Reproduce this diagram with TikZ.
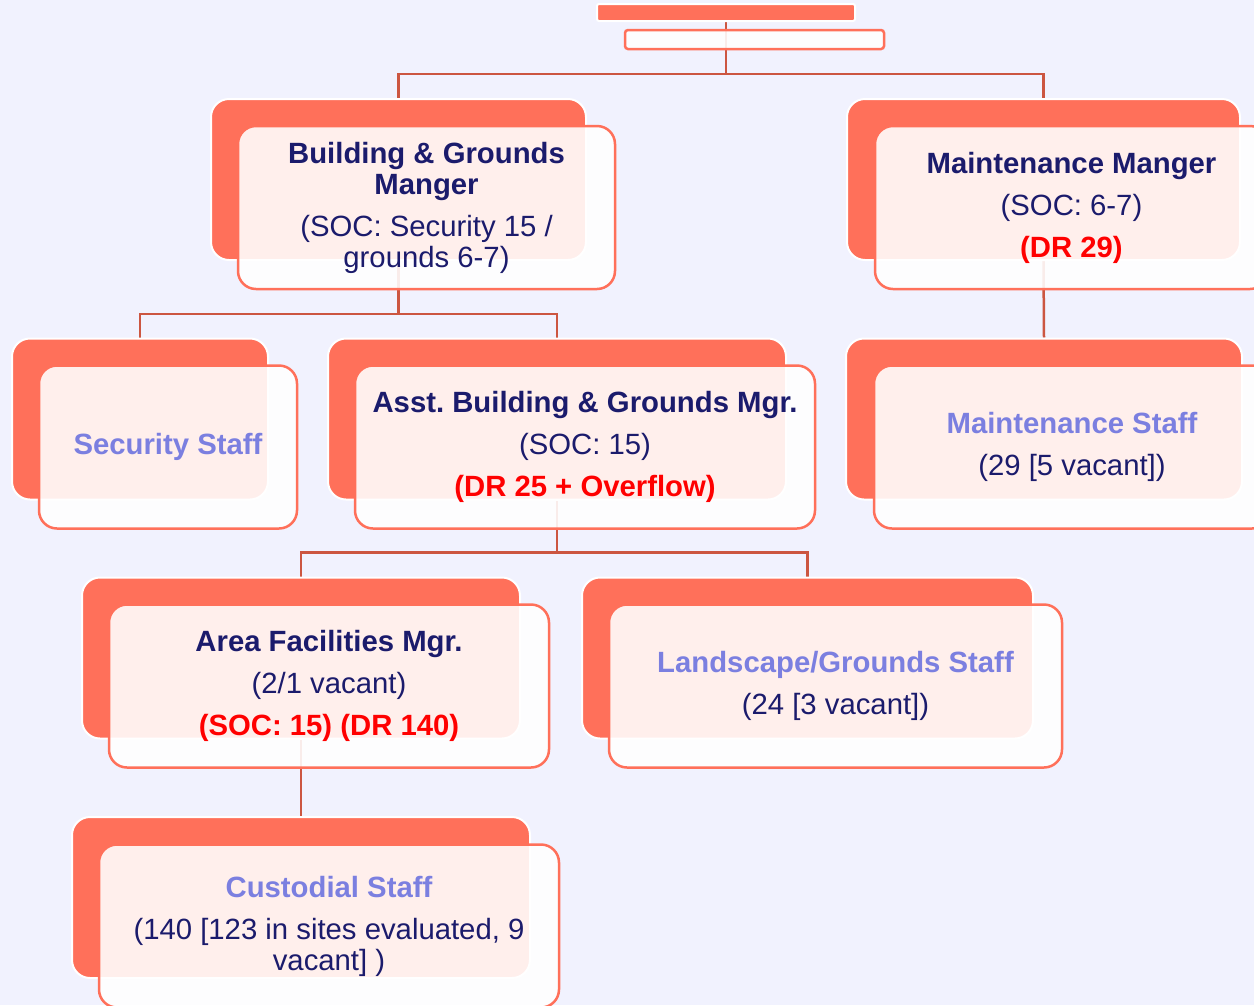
\documentclass[tikz,border=0pt]{standalone}
\usepackage{fontspec}
\setmainfont{Liberation Sans}
\usetikzlibrary{backgrounds}
\definecolor{coral}{HTML}{FF705A}
\definecolor{linkred}{HTML}{CC5641}
\definecolor{navytext}{HTML}{1B1B6C}
\definecolor{lavtext}{HTML}{7B7FE0}
\definecolor{drred}{HTML}{FF0000}
\definecolor{pagebg}{HTML}{F1F2FE}
\newcommand{\staff}[1]{{\color{lavtext}\bfseries #1}}
\newcommand{\drnote}[1]{{\color{drred}\bfseries #1}}
\frenchspacing

\begin{document}
\begin{tikzpicture}[x=1pt,y=1pt]
    \tikzstyle{back}=[fill=coral, draw=white, line width=2pt, rounded corners=18pt, minimum height=161pt, inner sep=0pt]
    \tikzstyle{box}=[fill=white, fill opacity=0.89, text opacity=1, draw=coral, line width=2.5pt, rounded corners=18pt, minimum height=163pt, align=center, text=navytext, font=\fontsize{29.3}{31}\selectfont]
    \tikzstyle{link}=[draw=linkred, line width=2.5pt]

    \useasboundingbox (0,0) rectangle (1254,-1005);

    % title bars, no text
    \node[back, rounded corners=2pt, minimum width=258pt, minimum height=17pt] (title) at (726,-12.5) {};
    \node[box, rounded corners=3pt, minimum width=259pt, minimum height=19pt] (subtitle) at (754.5,-39.5) {};

    % second row
    \node[back, minimum width=375pt] (bgm-b) at (398.5,-179.5) {};
    \node[box, minimum width=377pt] (bgm) at (426.5,-207.5)
    {\textbf{Building \& Grounds}\\\textbf{Manger}\\[11pt](SOC: Security 15 /\\grounds 6-7)};

    \node[back, minimum width=393pt] (mm-b) at (1043.5,-179.5) {};
    \node[box, minimum width=393pt] (mm) at (1071.5,-207.5)
    {\textbf{Maintenance Manger}\\[11pt](SOC: 6-7)\\[11pt]\drnote{(DR 29)}};

    % third row
    \node[back, minimum width=256pt] (sec-b) at (140,-419) {};
    \node[box, minimum width=258pt] (sec) at (168,-447) {\staff{Security Staff}};

    \node[back, minimum width=458pt] (asst-b) at (557,-419) {};
    \node[box, minimum width=460pt] (asst) at (585,-447)
    {\textbf{Asst. Building \& Grounds Mgr.}\\[11pt](SOC: 15)\\[11pt]\drnote{(DR 25 + Overflow)}};

    \node[back, minimum width=396pt] (ms-b) at (1044,-419) {};
    \node[box, minimum width=396pt] (ms) at (1072,-447)
    {\staff{Maintenance Staff}\\[11pt](29 [5 vacant])};

    % fourth row
    \node[back, minimum width=438pt] (afm-b) at (301,-658) {};
    \node[box, minimum width=440pt] (afm) at (329,-686)
    {\textbf{Area Facilities Mgr.}\\[11pt](2/1 vacant)\\[11pt]\drnote{(SOC: 15) (DR 140)}};

    \node[back, minimum width=451pt] (ls-b) at (807.5,-658) {};
    \node[box, minimum width=453pt] (ls) at (835.5,-686)
    {\staff{Landscape/Grounds Staff}\\[11pt](24 [3 vacant])};

    % bottom
    \node[back, minimum width=458pt] (cs-b) at (301,-897.5) {};
    \node[box, minimum width=460pt] (cs) at (329,-926)
    {\staff{Custodial Staff}\\[11pt](140 [123 in sites evaluated, 9\\vacant] )};

    \begin{scope}[on background layer]
      \fill[pagebg] (0,0) rectangle (1254,-1005);
      \draw[link] (title.south) -- ++(0,-52) coordinate (bus1) -| (bgm-b.north);
      \draw[link] (bus1) -| (mm-b.north);
      \draw[link] (bgm-b.south) -- ++(0,-53) coordinate (bus2) -| (sec-b.north);
      \draw[link] (bus2) -| (asst-b.north);
      \draw[link] (mm-b.south) -- (ms-b.north);
      \draw[link] (asst-b.south) -- ++(0,-52) coordinate (bus3) -| (afm-b.north);
      \draw[link] (bus3) -| (ls-b.north);
      \draw[link] (afm-b.south) -- (cs-b.north);
    \end{scope}
  \end{tikzpicture}
\end{document}
